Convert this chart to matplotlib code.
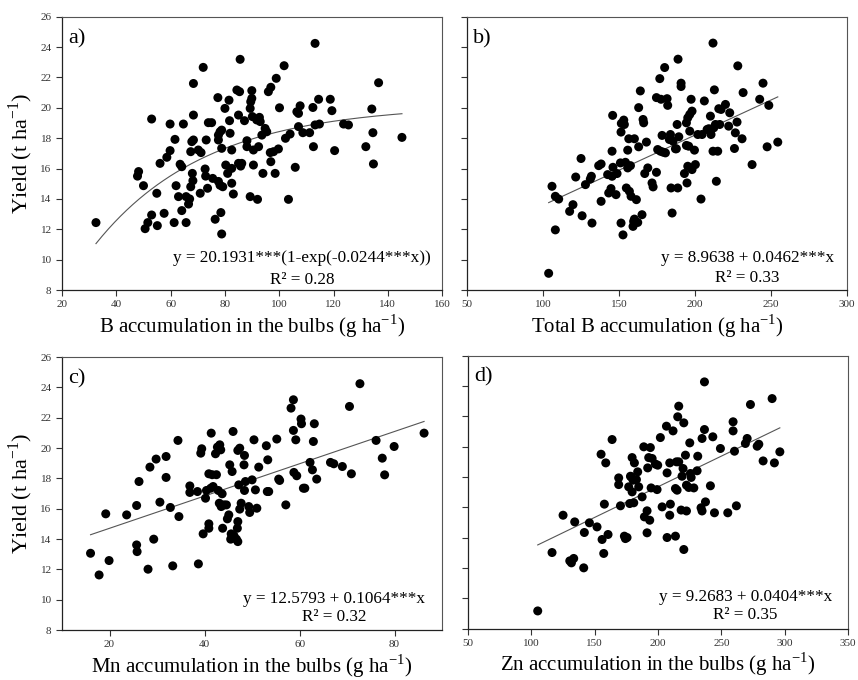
import matplotlib
matplotlib.use("Agg")
import matplotlib.pyplot as plt
import numpy as np

plt.rcParams["font.family"] = ["Liberation Serif", "DejaVu Serif"]
plt.rcParams["mathtext.fontset"] = "custom"
plt.rcParams["mathtext.rm"] = "Liberation Serif"

# a) B accumulation in the bulbs vs yield
b_bulb_x = [32.5, 47.8, 48.2, 50, 50.6, 51.6, 53, 53, 54.9, 55.1, 56.1, 57.6, 58.6, 59.8, 59.8,
            61.3, 61.6, 62, 62.9, 63.5, 64.1, 64.1, 64.7, 65.7, 65.7, 66.6, 67, 67.4, 67.8, 68.4,
            68.4, 68, 68.2, 67.4, 68.4, 70.2, 70.9, 71.2, 72, 72.7, 72.9, 73.1, 73.6, 73.9, 75.1,
            75.5, 76.4, 77.4, 77.6, 77.6, 77.6, 78.2, 78.2, 78.5, 78.8, 78.8, 78.8, 79.2, 80, 80.3,
            81, 81.5, 81.7, 81.9, 82.5, 82.5, 83.1, 82.5, 84.4, 85, 85.4, 85.6, 85, 85.8, 86.2,
            87.2, 88.1, 88.1, 89.3, 89.3, 89.5, 89.9, 89.9, 90.1, 90.5, 90.5, 91.7, 92, 92.4, 92.7,
            93, 93.6, 94, 94.8, 95.4, 96, 96.7, 96.9, 96.9, 97.9, 98.5, 98.9, 99.7, 100.1, 101.8,
            102.3, 103.4, 104, 105.9, 106.5, 107.1, 107.1, 107.7, 108.7, 111.2, 112.4, 112.6, 113.2,
            113.2, 114.5, 114.8, 118.8, 119.4, 120.4, 123.7, 125.5, 131.9, 134.1, 134.5, 134.7,
            136.6, 145.2]
b_bulb_y = [12.44, 15.5, 15.8, 14.87, 12.04, 12.44, 12.94, 19.26, 14.37, 12.24, 16.34, 13.05,
            16.74, 17.18, 18.93, 12.44, 17.92, 14.87, 14.15, 16.28, 16.12, 13.23, 18.93, 12.44,
            14.15, 13.66, 14.0, 17.11, 17.77, 19.52, 21.6, 15.68, 15.2, 14.8, 17.88, 17.22, 14.37,
            17.05, 22.66, 15.97, 15.5, 17.88, 14.7, 19.02, 19.02, 15.35, 12.66, 20.67, 18.2, 17.88,
            15.15, 18.42, 14.9, 13.1, 18.53, 17.33, 11.69, 14.8, 19.96, 16.23, 15.68, 20.5, 19.15,
            18.32, 17.22, 15.03, 14.32, 16.01, 21.17, 19.52, 21.06, 23.19, 16.34, 16.16, 16.34,
            19.15, 17.44, 17.83, 14.15, 19.96, 20.4, 21.13, 20.62, 19.42, 17.22, 16.23, 19.2, 13.97,
            17.44, 19.37, 19.09, 18.2, 15.68, 18.64, 18.42, 21.06, 17.05, 21.35, 16.45, 17.11,
            15.68, 21.94, 17.29, 20.0, 22.77, 17.99, 13.97, 18.27, 16.08, 19.74, 19.63, 18.76,
            20.13, 18.36, 18.36, 20.02, 17.44, 24.24, 18.87, 20.56, 18.93, 20.56, 19.81, 17.18,
            18.93, 18.87, 17.44, 19.92, 18.36, 16.3, 21.65, 18.05]

# b) total B accumulation vs yield
b_total_x = [103.7, 105.9, 108.1, 108.1, 110.3, 117.5, 119.7, 121.5, 125, 125.7, 127.9, 131.1,
             131.8, 132.2, 136.6, 138.2, 138.2, 142.5, 143.2, 144.7, 145.4, 145.4, 145.8, 146,
             148, 148.7, 150.9, 151.3, 151.5, 151.3, 152.6, 153.1, 153.5, 154.2, 154.8, 155.7,
             155.7, 156.4, 156.8, 157.5, 157.9, 159.2, 159.6, 160.1, 160.1, 161.4, 162.3, 162.9,
             162.9, 164, 165.1, 165.8, 166.2, 166.9, 168, 168.9, 171.7, 172.4, 174.6, 174.6, 175.4,
             176.8, 177.2, 177.6, 178.3, 178.9, 180, 180.5, 181.6, 182, 183.1, 183.8, 184.2, 184.9,
             185.5, 187.1, 187.7, 188.2, 188.6, 188.8, 189.3, 190.8, 190.8, 193, 194.3, 194.3,
             194.7, 195.2, 195.2, 195.8, 196.5, 196.5, 197.4, 198, 198, 199.6, 200.2, 201.8, 203.9,
             204.6, 206.1, 207.9, 209, 210.1, 210.5, 211.8, 211.8, 212.3, 212.7, 213.4, 214, 214.9,
             215.6, 216.2, 217.1, 220, 222.1, 222.8, 225.9, 226.5, 227.6, 228.1, 230.9, 231.6,
             237.5, 242.5, 244.7, 247.4, 248.5, 254.4]
b_total_y = [9.1, 14.83, 11.96, 14.17, 13.99, 13.18, 13.62, 15.44, 16.66, 12.89, 14.94, 15.31,
             15.49, 12.41, 16.19, 16.3, 13.84, 15.6, 14.39, 14.68, 15.49, 17.14, 19.5, 16.08, 14.28,
             15.67, 16.37, 18.4, 18.97, 12.41, 11.63, 19.19, 18.9, 16.41, 14.72, 17.21, 16.04,
             17.96, 14.5, 16.19, 14.17, 12.19, 12.52, 17.96, 12.67, 13.95, 12.45, 17.43, 20.01,
             21.11, 12.96, 19.23, 19.01, 15.67, 17.74, 16.04, 15.05, 14.79, 15.75, 20.67, 17.25,
             21.92, 17.14, 20.56, 18.18, 17.08, 22.65, 17.03, 20.6, 20.16, 17.91, 18.24, 14.72,
             13.07, 17.8, 17.3, 17.3, 18.9, 14.72, 23.2, 18.09, 21.62, 21.4, 15.67, 17.52, 19.01,
             15.05, 19.34, 16.15, 17.47, 19.56, 18.46, 20.56, 19.78, 15.93, 17.21, 16.26, 18.24,
             13.99, 18.24, 20.45, 18.57, 18.62, 19.45, 18.24, 24.26, 17.14, 18.68, 21.18, 18.9,
             15.16, 17.14, 19.94, 18.9, 19.89, 20.22, 18.79, 19.67, 17.32, 18.35, 19.06, 22.76,
             17.96, 21.0, 16.26, 20.56, 21.62, 17.43, 20.16, 17.74]

# c) Mn accumulation in the bulbs vs yield
mn_x = [16, 17.8, 19.2, 19.9, 23.6, 25.7, 25.7, 25.8, 26.2, 28.1, 28.5, 29.3, 29.8, 30.6, 31.9,
        31.9, 32.8, 33.3, 34.4, 34.6, 36.9, 36.9, 38.5, 38.7, 39.2, 39.4, 39.7, 40.2, 40.4, 40.9,
        40.9, 40.9, 41.3, 41.4, 41.6, 41.8, 42.3, 42.5, 42.7, 42.9, 43.1, 43.2, 43.4, 43.5, 43.7,
        43.8, 44.1, 44.6, 44.8, 45.1, 45.3, 45.5, 45.6, 45.8, 46, 46.2, 46.7, 46.9, 47, 47, 47,
        47.2, 47.4, 47.4, 47.7, 48.3, 48.4, 48.4, 48.6, 49.3, 49.5, 50, 50.4, 50.7, 51, 51.4, 53,
        53.2, 53.3, 53.5, 55.2, 55.6, 55.8, 57.1, 58.2, 58.7, 58.7, 58.8, 59.2, 59.4, 60.3, 60.4,
        60.8, 61.1, 62.2, 62.7, 62.9, 63.1, 63.6, 66.5, 67.2, 69, 70.5, 70.9, 72.7, 76.1, 77.4,
        77.9, 79.9, 86.2]
mn_y = [13.06, 11.63, 15.66, 12.58, 15.59, 16.21, 13.61, 13.17, 17.79, 12.01, 18.74, 13.99,
        19.27, 16.43, 19.44, 18.06, 16.08, 12.23, 20.5, 15.48, 17.5, 17.07, 17.13, 12.36, 19.66,
        19.95, 14.34, 16.69, 17.2, 15.0, 14.71, 18.3, 17.35, 20.98, 18.24, 17.46, 19.62, 18.24,
        20.06, 17.2, 16.36, 20.21, 19.88, 16.14, 16.98, 14.71, 16.25, 16.25, 15.33, 15.59, 18.89,
        13.99, 14.34, 18.45, 21.09, 14.21, 13.99, 14.71, 13.83, 15.15, 19.84, 17.57, 19.99, 15.97,
        16.36, 18.89, 19.51, 17.2, 17.79, 16.14, 15.75, 17.9, 20.54, 17.24, 16.03, 18.74, 20.15,
        17.13, 19.22, 17.13, 20.59, 17.95, 17.86, 16.25, 22.63, 23.18, 21.16, 18.39, 20.54,
        18.17, 21.91, 21.6, 17.35, 17.35, 19.05, 18.56, 20.43, 21.6, 17.95, 19.05, 18.96, 18.78,
        22.74, 18.3, 24.24, 20.5, 19.33, 18.23, 20.1, 20.98]

# d) Zn accumulation in the bulbs vs yield
zn_x = [105, 116.3, 125, 130.3, 131.6, 133.4, 134.2, 141.3, 141.8, 145.8, 151.8, 155.8, 155,
        157.1, 157.6, 158.7, 160.5, 163.7, 168.9, 168.9, 170.3, 173.4, 174.2, 175.5, 176.8,
        177.6, 178.2, 178.7, 179.5, 179.5, 180.3, 180.8, 181.3, 182.9, 183.9, 184.7, 187.4,
        188.7, 189.2, 191.3, 191.3, 191.8, 192.6, 193.4, 193.9, 194.5, 195.3, 197.9, 199.2,
        199.7, 201.8, 203.2, 206.6, 207.1, 207.1, 209.2, 209.7, 209.2, 211.8, 213.7, 213.7,
        214.5, 215, 215.5, 216.3, 216.3, 218.2, 218.9, 219.7, 220.3, 220.3, 221.6, 222.4, 222.4,
        224.2, 225, 225.5, 226.1, 228.2, 230.8, 231.3, 233.9, 234.7, 234.7, 236.6, 236.6, 237.4,
        241.3, 243.2, 244.5, 249.2, 255, 259.2, 259.2, 260.3, 261.8, 268.9, 270.3, 272.9, 278.2,
        279.5, 282.9, 290, 291.8, 296.1]
zn_y = [9.16, 13.01, 15.47, 12.46, 12.33, 12.62, 15.03, 12.0, 14.33, 14.97, 14.7, 13.87, 19.49,
        12.95, 16.2, 18.92, 14.2, 20.46, 17.93, 17.49, 16.09, 14.09, 13.93, 14.0, 17.34, 16.24,
        18.04, 18.0, 19.27, 17.01, 17.78, 16.29, 18.92, 17.82, 18.33, 17.34, 16.68, 19.98, 15.36,
        15.76, 14.31, 18.59, 19.27, 15.14, 19.93, 17.27, 19.21, 18.84, 17.16, 18.77, 20.59, 16.02,
        21.34, 18.26, 14.0, 15.47, 16.2, 18.92, 21.03, 14.09, 17.23, 18.99, 17.12, 21.96, 22.66,
        18.99, 15.81, 18.04, 18.55, 21.56, 13.21, 19.43, 15.75, 17.45, 17.3, 20.24, 18.22, 17.96,
        17.27, 18.4, 19.36, 15.96, 15.75, 20.53, 21.12, 24.26, 16.35, 17.41, 20.64, 15.63, 19.87,
        15.63, 21.63, 21.03, 19.69, 16.09, 20.2, 20.53, 22.77, 20.02, 20.15, 19.05, 23.16, 18.92,
        19.65]

# fitted equations as printed on the chart
fit_a = (20.1931, 0.0244)      # y = a(1-exp(-b x))
fit_b = (8.9638, 0.0462)       # y = a + b x
fit_c = (12.5793, 0.1064)
fit_d = (9.2683, 0.0404)

eq_texts = [
    "y = 20.1931***(1-exp(-0.0244***x))\nR² = 0.28",
    "y = 8.9638 + 0.0462***x\nR² = 0.33",
    "y = 12.5793 + 0.1064***x\nR² = 0.32",
    "y = 9.2683 + 0.0404***x\nR² = 0.35",
]
xlabels = [
    r"B accumulation in the bulbs (g ha$^{\mathrm{-1}}$)",
    r"Total B accumulation (g ha$^{\mathrm{-1}}$)",
    r"Mn accumulation in the bulbs (g ha$^{\mathrm{-1}}$)",
    r"Zn accumulation in the bulbs (g ha$^{\mathrm{-1}}$)",
]
panel_tags = ["a)", "b)", "c)", "d)"]
xlims = [(20, 160), (50, 300), (10, 90), (50, 350)]
xticks = [np.arange(20, 161, 20), np.arange(50, 301, 50), [20, 40, 60, 80], np.arange(50, 351, 50)]
yticks = np.arange(8, 27, 2)

fig = plt.figure(figsize=(8.58, 6.80), dpi=100)
rects = [
    [0.0723, 0.5735, 0.443, 0.402],
    [0.5443, 0.5735, 0.443, 0.402],
    [0.0723, 0.0735, 0.443, 0.4015],
    [0.5455, 0.0757, 0.443, 0.4015],
]
axes = [fig.add_axes(r) for r in rects]

xs = [b_bulb_x, b_total_x, mn_x, zn_x]
ys = [b_bulb_y, b_total_y, mn_y, zn_y]
eq_pos = [(0.632, 0.117, 0.037), (0.737, 0.117, 0.044), (0.715, 0.112, 0.049), (0.729, 0.116, 0.05)]

for i, ax in enumerate(axes):
    x = np.array(xs[i])
    y = np.array(ys[i])
    ax.scatter(x, y, s=42, color="black", edgecolors="none", zorder=3)

    xx = np.linspace(x.min(), x.max(), 200)
    if i == 0:
        yy = fit_a[0] * (1 - np.exp(-fit_a[1] * xx))
    else:
        a, b = [fit_b, fit_c, fit_d][i - 1]
        yy = a + b * xx
    ax.plot(xx, yy, color="#555555", lw=0.8, zorder=2)

    ax.set_xlim(*xlims[i])
    ax.set_ylim(8, 26)
    ax.set_xticks(xticks[i])
    ax.set_yticks(yticks)
    ax.tick_params(direction="out", length=4, width=0.8, labelsize=8, colors="#333333")
    if i % 2 == 1:
        ax.set_yticklabels([])
    else:
        ax.set_ylabel(r"Yield (t ha$^{\mathrm{-1}}$)", fontsize=16, labelpad=4)
    ax.set_xlabel(xlabels[i], fontsize=15, labelpad=2)

    for side in ["top", "right"]:
        ax.spines[side].set_color("#555555")
        ax.spines[side].set_linewidth(0.8)
    for side in ["left", "bottom"]:
        ax.spines[side].set_color("#222222")
        ax.spines[side].set_linewidth(0.9)

    ax.text(0.016, 0.92, panel_tags[i], transform=ax.transAxes, fontsize=16,
            ha="left", va="center")
    eq, r2 = eq_texts[i].split("\n")
    ex, ey1, ey2 = eq_pos[i]
    ax.text(ex, ey1, eq, transform=ax.transAxes, fontsize=12.3, ha="center", va="center")
    ax.text(ex, ey2, r2, transform=ax.transAxes, fontsize=12.3, ha="center", va="center")

fig.savefig("out.png", dpi=100)
